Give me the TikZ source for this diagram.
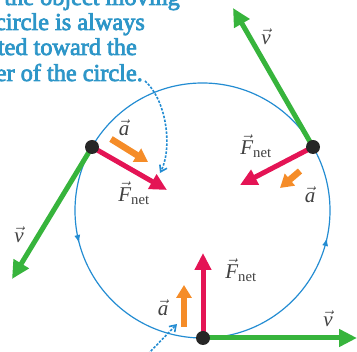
\documentclass[tikz,border=0pt]{standalone}
\usepackage{amsmath}
\usepackage{fontspec}
\setmainfont{Liberation Serif}
\newfontfamily\capfont[FakeBold=3]{Liberation Serif}
\usetikzlibrary{arrows.meta}
\definecolor{txtblue}{RGB}{45,150,200}
\definecolor{circblue}{RGB}{35,140,210}
\definecolor{vgreen}{RGB}{55,180,60}
\definecolor{fred}{RGB}{228,20,85}
\definecolor{aorange}{RGB}{245,140,40}
\definecolor{lblgray}{RGB}{65,65,65}
\newcommand\vlet[1]{$\vec{\text{\itshape #1}}$}
\newcommand\fnet{$\vec{\text{\itshape F}}_{\text{net}}$}
\tikzset{
  vvec/.style={draw=vgreen,line width=5pt,-{Triangle[length=18pt,width=17pt]}},
  fvec/.style={draw=fred,line width=5pt,-{Triangle[length=17pt,width=16pt]}},
  avec/.style={draw=aorange,line width=6.5pt,-{Triangle[length=13pt,width=15pt]}},
  dotpt/.style={circle,fill=black!85,inner sep=0pt,minimum size=14pt},
  lbl/.style={text=lblgray,font=\fontsize{21}{24}\selectfont,inner sep=0pt},
  caption/.style={text=txtblue,font=\fontsize{24.3}{25}\selectfont\capfont,inner sep=0pt},
  pointer/.style={draw=circblue,line width=1.6pt,dash pattern=on 2.5pt off 1.5pt,-{Straight Barb[length=6pt,width=8pt]}},
  circtip/.style={draw=circblue,line width=1.2pt,-{Latex[length=8pt,width=6pt]}}
}
\begin{document}
\begin{tikzpicture}[x=1pt,y=-1pt]
\useasboundingbox[clip] (0,0) rectangle (357,352);
% caption text
\node[caption,anchor=base east] (t1) at (180,5) {the object moving};
\node[caption,anchor=base east] (t2) at (145,30) {circle is always};
\node[caption,anchor=base east] (t3) at (137,55) {directed toward the};
\node[caption,anchor=base east] (t4) at (143,81) {center of the circle.};
% circle
\coordinate (c) at (202.5,210.5);
\draw[circblue,line width=1.2pt] (c) circle (127.5);
\coordinate (l0) at (78.6,240.6);
\coordinate (l1) at (79.2,243);
\draw[circtip] (l0) -- (l1);
\coordinate (r0) at (326.4,240.5);
\coordinate (r1) at (327,238);
\draw[circtip] (r0) -- (r1);
% pointers
\coordinate (ps) at (145,81);
\coordinate (pe) at (160,173);
\draw[pointer] (ps) .. controls (168,102) and (172,150) .. (pe);
\coordinate (qs) at (148,354);
\coordinate (qe) at (177,324);
\draw[pointer] (qs) -- (qe);
% points
\coordinate (P1) at (313,147);
\coordinate (P2) at (92,147);
\coordinate (P3) at (203,338);
% right point
\coordinate (v1) at (233,8);
\coordinate (f1) at (240,185);
\coordinate (a1s) at (300,171);
\coordinate (a1e) at (280,188);
\draw[vvec] (P1) -- (v1);
\draw[fvec] (P1) -- (f1);
\draw[avec] (a1s) -- (a1e);
% left point
\coordinate (v2) at (12,279);
\coordinate (f2) at (167,190);
\coordinate (a2s) at (111,139);
\coordinate (a2e) at (148,162);
\draw[vvec] (P2) -- (v2);
\draw[fvec] (P2) -- (f2);
\draw[avec] (a2s) -- (a2e);
% bottom point
\coordinate (v3) at (357,338);
\coordinate (f3) at (203,253);
\coordinate (a3s) at (184,327);
\coordinate (a3e) at (184,285);
\draw[vvec] (P3) -- (v3);
\draw[fvec] (P3) -- (f3);
\draw[avec] (a3s) -- (a3e);
% dots
\node[dotpt] (d1) at (P1) {};
\node[dotpt] (d2) at (P2) {};
\node[dotpt] (d3) at (P3) {};
% labels
\node[lbl] (lv1) at (266,37) {\vlet{v}};
\node[lbl] (lf1) at (256,146) {\fnet};
\node[lbl] (la1) at (310,195) {\vlet{a}};
\node[lbl] (lv2) at (19,235) {\vlet{v}};
\node[lbl] (lf2) at (134,193) {\fnet};
\node[lbl] (la2) at (124,128) {\vlet{a}};
\node[lbl] (lv3) at (328,319) {\vlet{v}};
\node[lbl] (lf3) at (241,270) {\fnet};
\node[lbl] (la3) at (163,308) {\vlet{a}};
\end{tikzpicture}
\end{document}
